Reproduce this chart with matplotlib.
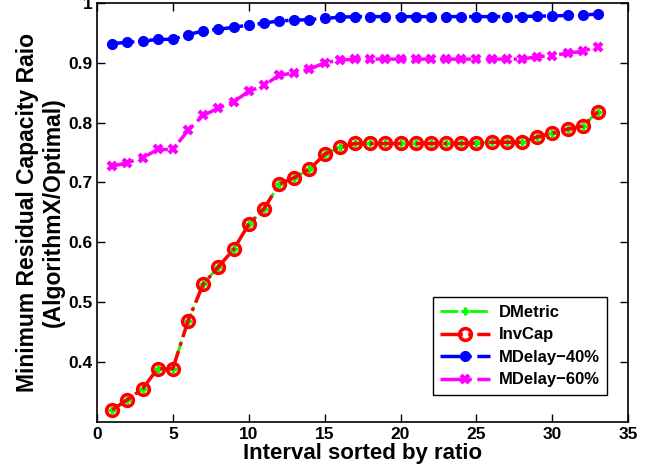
import numpy as np
import matplotlib
matplotlib.use('Agg')
import matplotlib.pyplot as plt

plt.rcParams['font.family'] = ['Liberation Sans', 'DejaVu Sans']
plt.rcParams['font.weight'] = 'bold'

# interval index
x = np.arange(1, 34)

# InvCap (DMetric sits on top of it)
invcap = [0.320, 0.337, 0.355, 0.389, 0.389, 0.469, 0.530, 0.559, 0.588, 0.630,
          0.656, 0.697, 0.708, 0.722, 0.747, 0.759, 0.765, 0.765, 0.765, 0.765,
          0.765, 0.765, 0.765, 0.765, 0.766, 0.767, 0.767, 0.767, 0.776, 0.782,
          0.789, 0.794, 0.818]
dmetric = list(invcap)

mdelay40 = [0.932, 0.934, 0.936, 0.939, 0.939, 0.947, 0.953, 0.956, 0.959, 0.963,
            0.966, 0.970, 0.971, 0.972, 0.974, 0.976, 0.977, 0.977, 0.977, 0.977,
            0.977, 0.977, 0.977, 0.977, 0.977, 0.977, 0.977, 0.977, 0.978, 0.978,
            0.979, 0.980, 0.981]

mdelay60 = [0.727, 0.733, 0.741, 0.755, 0.755, 0.787, 0.812, 0.824, 0.835, 0.852,
            0.862, 0.879, 0.883, 0.889, 0.900, 0.904, 0.906, 0.906, 0.906, 0.906,
            0.906, 0.906, 0.906, 0.906, 0.906, 0.906, 0.906, 0.906, 0.910, 0.912,
            0.916, 0.919, 0.927]

fig = plt.figure(figsize=(6.51, 4.75), dpi=100)
ax = fig.add_axes([0.149, 0.112, 0.816, 0.882])

ax.plot(x, dmetric, '-.', color='#00ff00', marker='+', markersize=6, mew=2.5, lw=2, label='DMetric', zorder=2)
ax.plot(x, invcap, '-.', color='red', marker='o', markersize=8.5, mfc='none', mew=2.5, lw=2.5, label='InvCap', zorder=3)
ax.plot(x, mdelay40, '-.', color='blue', marker='o', markersize=7, lw=2.5, label='MDelay\u221240%')
ax.plot(x, mdelay60, '-.', color='magenta', marker='x', markersize=6, mew=3, lw=2.5, label='MDelay\u221260%')

ax.set_xlim(0, 35)
ax.set_ylim(0.3, 1.0)
ax.set_xticks([0, 5, 10, 15, 20, 25, 30, 35])
ax.set_yticks([0.4, 0.5, 0.6, 0.7, 0.8, 0.9, 1.0])
ax.set_yticklabels(['0.4', '0.5', '0.6', '0.7', '0.8', '0.9', '1'])
ax.tick_params(direction='in', top=True, right=True, labelsize=12.5, width=1, length=6)
for s in ax.spines.values():
    s.set_linewidth(1.2)

ax.set_xlabel('Interval sorted by ratio', fontsize=16, fontweight='bold', labelpad=1)
ax.set_ylabel('Minimum Residual Capacity Raio\n(AlgorithmX/Optimal)', fontsize=16.5, fontweight='bold', labelpad=2)

leg = ax.legend(loc='lower right', bbox_to_anchor=(0.96, 0.064), borderaxespad=0, fancybox=False,
                edgecolor='black', fontsize=12, handlelength=3, borderpad=0.45, labelspacing=0.45,
                handletextpad=0.5, framealpha=1)
leg.get_frame().set_linewidth(1)

fig.savefig('out.png', dpi=100)
